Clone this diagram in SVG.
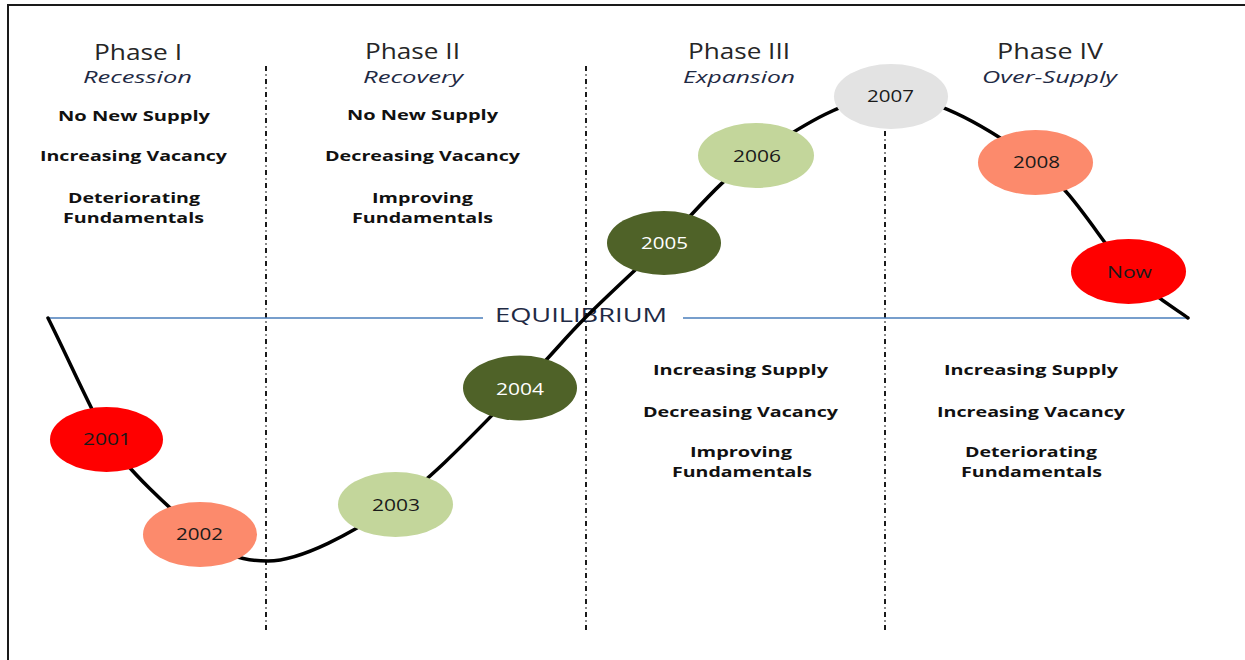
<svg xmlns="http://www.w3.org/2000/svg" width="1245" height="660" viewBox="0 0 1245 660">
<style>
  .head{font-family:"Open Sans","Liberation Sans",sans-serif;font-size:21px;fill:#262626;text-anchor:middle}
  .sub{font-family:"Open Sans","Liberation Sans",sans-serif;font-size:17px;font-style:italic;fill:#1f2a44;text-anchor:middle}
  .item{font-family:"Open Sans","Liberation Sans",sans-serif;font-size:15px;font-weight:bold;fill:#111;text-anchor:middle}
  .yr{font-family:"Open Sans","Liberation Sans",sans-serif;font-size:16px;fill:#1a1a1a;text-anchor:middle}
  .yrw{font-family:"Open Sans","Liberation Sans",sans-serif;font-size:16px;fill:#ffffff;text-anchor:middle}
  .div{stroke:#1a1a1a;stroke-width:2;stroke-dasharray:5 3.5 1 3.5;fill:none}
  .eq{stroke:#4a7ebb;stroke-width:1.3;fill:none}
  .curve{stroke:#000;stroke-width:3.5;fill:none;stroke-linecap:round}
  .red{fill:#ff0000}.salmon{fill:#fc8a6c}.lgreen{fill:#c3d69b}.dgreen{fill:#4f6228}.grey{fill:#e3e3e3}
</style>
<rect width="1245" height="660" fill="#ffffff"/>
<path d="M8,660 V5 H1245" fill="none" stroke="#1a1a1a" stroke-width="2"/>

<g id="dividers">
  <line class="div" x1="266" y1="66" x2="266" y2="632"/>
  <line class="div" x1="586" y1="66" x2="586" y2="632"/>
  <line class="div" x1="885" y1="66" x2="885" y2="632"/>
</g>

<g id="equilibrium">
  <line class="eq" x1="48" y1="318" x2="483" y2="318"/>
  <line class="eq" x1="683" y1="318" x2="1188" y2="318"/>
  <text x="581" y="322" font-family="'Open Sans','Liberation Sans',sans-serif" font-size="20" fill="#1f2a44" text-anchor="middle" textLength="172" lengthAdjust="spacingAndGlyphs">EQUILIBRIUM</text>
</g>

<g id="connectors">
  <path class="curve" d="M48,318 C68,358 90,408 107,438 C125,468 173.2,512.5 200,533 C226.8,553.5 235.5,561 268,561 C300.5,561 353.2,532.8 395,504 C436.8,475.2 487.3,419 519,388 C550.7,357 560.8,342.2 585,318 C609.2,293.8 635.5,270 664,243 C692.5,216 718.2,180.5 756,156 C793.8,131.5 844.5,96 891,96 C937.5,96 995.5,132.8 1035,162 C1074.5,191.2 1102.5,245 1128,271 C1153.5,297 1178,310.2 1188,318"/>
</g>

<g id="phase1">
  <text class="head" x="138" y="60" textLength="88" lengthAdjust="spacingAndGlyphs">Phase I</text>
  <text class="sub" x="137.5" y="83" textLength="109" lengthAdjust="spacingAndGlyphs">Recession</text>
  <text class="item" x="134" y="121" textLength="152" lengthAdjust="spacingAndGlyphs">No New Supply</text>
  <text class="item" x="133.5" y="161" textLength="187" lengthAdjust="spacingAndGlyphs">Increasing Vacancy</text>
  <text class="item" x="134" y="203" textLength="132" lengthAdjust="spacingAndGlyphs">Deteriorating</text>
  <text class="item" x="133.5" y="223" textLength="141" lengthAdjust="spacingAndGlyphs">Fundamentals</text>
</g>
<g id="phase2">
  <text class="head" x="412.5" y="59" textLength="95" lengthAdjust="spacingAndGlyphs">Phase II</text>
  <text class="sub" x="413" y="83" textLength="100" lengthAdjust="spacingAndGlyphs">Recovery</text>
  <text class="item" x="422.5" y="120" textLength="151" lengthAdjust="spacingAndGlyphs">No New Supply</text>
  <text class="item" x="422.5" y="161" textLength="195" lengthAdjust="spacingAndGlyphs">Decreasing Vacancy</text>
  <text class="item" x="422.5" y="203" textLength="101" lengthAdjust="spacingAndGlyphs">Improving</text>
  <text class="item" x="422.5" y="223" textLength="141" lengthAdjust="spacingAndGlyphs">Fundamentals</text>
</g>
<g id="phase3">
  <text class="head" x="739" y="59" textLength="102" lengthAdjust="spacingAndGlyphs">Phase III</text>
  <text class="sub" x="739" y="83" textLength="112" lengthAdjust="spacingAndGlyphs">Expansion</text>
  <text class="item" x="740.5" y="375" textLength="175" lengthAdjust="spacingAndGlyphs">Increasing Supply</text>
  <text class="item" x="740.5" y="417" textLength="195" lengthAdjust="spacingAndGlyphs">Decreasing Vacancy</text>
  <text class="item" x="741" y="457" textLength="102" lengthAdjust="spacingAndGlyphs">Improving</text>
  <text class="item" x="742" y="477" textLength="140" lengthAdjust="spacingAndGlyphs">Fundamentals</text>
</g>
<g id="phase4">
  <text class="head" x="1050" y="59" textLength="106" lengthAdjust="spacingAndGlyphs">Phase IV</text>
  <text class="sub" x="1049.5" y="83" textLength="135" lengthAdjust="spacingAndGlyphs">Over-Supply</text>
  <text class="item" x="1031" y="375" textLength="174" lengthAdjust="spacingAndGlyphs">Increasing Supply</text>
  <text class="item" x="1031" y="417" textLength="188" lengthAdjust="spacingAndGlyphs">Increasing Vacancy</text>
  <text class="item" x="1031" y="457" textLength="132" lengthAdjust="spacingAndGlyphs">Deteriorating</text>
  <text class="item" x="1031.5" y="477" textLength="141" lengthAdjust="spacingAndGlyphs">Fundamentals</text>
</g>

<g id="y2001"><ellipse class="red" cx="106.5" cy="439.5" rx="56.5" ry="32.5"/><text class="yr" x="107" y="445" textLength="48" lengthAdjust="spacingAndGlyphs">2001</text></g>
<g id="y2002"><ellipse class="salmon" cx="200" cy="534.5" rx="57" ry="32.5"/><text class="yr" x="199.5" y="540" textLength="47" lengthAdjust="spacingAndGlyphs">2002</text></g>
<g id="y2003"><ellipse class="lgreen" cx="395.5" cy="504.5" rx="57.5" ry="32.5"/><text class="yr" x="396" y="511" textLength="48" lengthAdjust="spacingAndGlyphs">2003</text></g>
<g id="y2004"><ellipse class="dgreen" cx="520" cy="388" rx="57" ry="32.5"/><text class="yrw" x="520" y="395" textLength="48" lengthAdjust="spacingAndGlyphs">2004</text></g>
<g id="y2005"><ellipse class="dgreen" cx="664" cy="243" rx="57" ry="32"/><text class="yrw" x="664.5" y="249" textLength="47" lengthAdjust="spacingAndGlyphs">2005</text></g>
<g id="y2006"><ellipse class="lgreen" cx="756" cy="155.5" rx="58" ry="32.5"/><text class="yr" x="757" y="162" textLength="48" lengthAdjust="spacingAndGlyphs">2006</text></g>
<g id="y2007"><ellipse class="grey" cx="891" cy="96.5" rx="57" ry="32.5"/><text class="yr" x="890.5" y="102" textLength="47" lengthAdjust="spacingAndGlyphs">2007</text></g>
<g id="y2008"><ellipse class="salmon" cx="1035.5" cy="162.5" rx="57.5" ry="32.5"/><text class="yr" x="1036.5" y="168" textLength="47" lengthAdjust="spacingAndGlyphs">2008</text></g>
<g id="now"><ellipse class="red" cx="1128.5" cy="271.5" rx="57.5" ry="32.5"/><text class="yr" x="1129.5" y="278" textLength="45" lengthAdjust="spacingAndGlyphs">Now</text></g>
</svg>
